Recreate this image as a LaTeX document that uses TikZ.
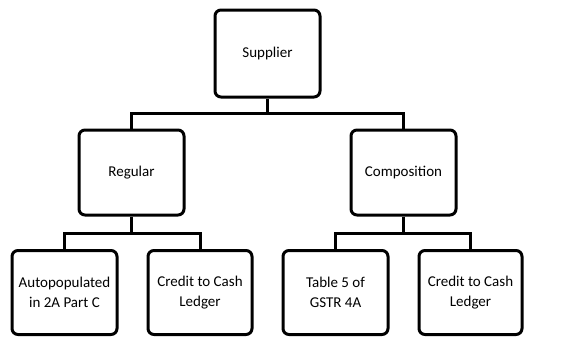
\documentclass[tikz,border=0pt]{standalone}
\usepackage{fontspec}
\setmainfont{Carlito}
\begin{document}
\begin{tikzpicture}[x=1pt,y=-1pt,
  box/.style={draw=black,line width=3pt,rounded corners=6pt,fill=white,align=center,font=\fontsize{15}{19.5}\selectfont,inner sep=0pt},
  conn/.style={draw=black,line width=3pt}]
\useasboundingbox (0,0) rectangle (586,338);
\node[box,minimum width=105pt,minimum height=87pt] (sup) at (267.5,53.5) {Supplier};
\node[box,minimum width=105pt,minimum height=85pt] (reg) at (131.5,172.5) {Regular};
\node[box,minimum width=105pt,minimum height=85pt] (comp) at (403.5,172.5) {Composition};
\node[box,minimum width=105pt,minimum height=84pt] (a1) at (64.5,292.5) {Autopopulated\\in 2A Part C};
\node[box,minimum width=104pt,minimum height=84pt] (a2) at (200,292.5) {Credit to Cash\\Ledger};
\node[box,minimum width=105pt,minimum height=84pt] (b1) at (335.5,292.5) {Table 5 of\\GSTR 4A};
\node[box,minimum width=103pt,minimum height=84pt] (b2) at (470.5,292.5) {Credit to Cash\\Ledger};
\coordinate (j0) at (267.5,113);
\coordinate (j1) at (131.5,233);
\coordinate (j2) at (403.5,233);
\draw[conn] (sup.south) -- (j0);
\draw[conn] (reg.north) |- (j0) -| (comp.north);
\draw[conn] (reg.south) -- (j1);
\draw[conn] (a1.north) |- (j1) -| (a2.north);
\draw[conn] (comp.south) -- (j2);
\draw[conn] (b1.north) |- (j2) -| (b2.north);
\end{tikzpicture}
\end{document}
